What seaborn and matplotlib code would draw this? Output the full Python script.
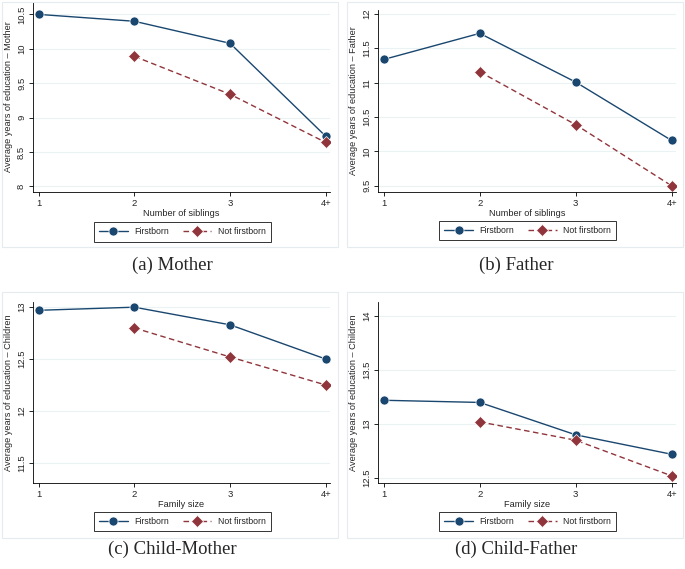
import pandas as pd
import matplotlib.pyplot as plt
import matplotlib.patches as mpatches
import seaborn as sns

# x categories
x_pos = [1, 2, 3, 4]
x_labels = ["1", "2", "3", "4+"]

# (a) Mother
mother_first = [10.50, 10.40, 10.08, 8.73]
mother_not = [9.89, 9.34, 8.64]
# (b) Father
father_first = [11.34, 11.72, 11.01, 10.16]
father_not = [11.16, 10.39, 9.50]
# (c) Child-Mother
cm_first = [12.97, 13.00, 12.83, 12.50]
cm_not = [12.80, 12.52, 12.25]
# (d) Child-Father
cf_first = [13.22, 13.20, 12.90, 12.72]
cf_not = [13.02, 12.85, 12.52]

navy = "#1a476f"
maroon = "#90353b"

sns.set_theme(style="white")
plt.rcParams['font.family'] = ['Liberation Sans', 'DejaVu Sans']

fig = plt.figure(figsize=(6.85, 5.69), dpi=100)
W, H = 685, 569


def make_df(first, notf):
    rows = [(x, v, "Firstborn") for x, v in zip(x_pos, first)]
    rows += [(x, v, "Not firstborn") for x, v in zip(x_pos[1:], notf)]
    return pd.DataFrame(rows, columns=["x", "y", "group"])


panels = [
    # values, box px (left, top, right, bottom), ylim, yticks, ylabel, xlabel, caption, caption pos, frame
    (mother_first, mother_not, (33, 2, 330, 192), (7.92, 10.68), [8, 8.5, 9, 9.5, 10, 10.5],
     ["8", "8.5", "9", "9.5", "10", "10.5"], "Average years of education \u2013 Mother",
     "Number of siblings", "(a) Mother", (172, 265), (2, 2, 338, 247)),
    (father_first, father_not, (378, 10, 676, 192), (9.41, 12.06), [9.5, 10, 10.5, 11, 11.5, 12],
     ["9.5", "10", "10.5", "11", "11.5", "12"], "Average years of education \u2013 Father",
     "Number of siblings", "(b) Father", (516, 265), (347, 2, 683, 247)),
    (cm_first, cm_not, (33, 302, 330, 483), (11.305, 13.05), [11.5, 12, 12.5, 13],
     ["11.5", "12", "12.5", "13"], "Average years of education \u2013 Children",
     "Family size", "(c) Child-Mother", (172, 549), (2, 292, 338, 538)),
    (cf_first, cf_not, (378, 302, 676, 483), (12.454, 14.13), [12.5, 13, 13.5, 14],
     ["12.5", "13", "13.5", "14"], "Average years of education \u2013 Children",
     "Family size", "(d) Child-Father", (516, 549), (347, 292, 683, 538)),
]

for first, notf, box, ylim, yticks, ytl, ylabel, xlabel, caption, cpos, frame in panels:
    # light frame around each graph
    fl, ft, fr, fb = frame
    fig.patches.append(mpatches.Rectangle((fl / W, 1 - fb / H), (fr - fl) / W, (fb - ft) / H,
                                          transform=fig.transFigure, fill=False,
                                          edgecolor="#e4ecef", linewidth=0.8))
    l, t, r, b = box
    ax = fig.add_axes([l / W, 1 - b / H, (r - l) / W, (b - t) / H])
    df = make_df(first, notf)
    sns.lineplot(data=df, x="x", y="y", hue="group", style="group", ax=ax,
                 palette={"Firstborn": navy, "Not firstborn": maroon},
                 markers={"Firstborn": "o", "Not firstborn": "D"},
                 dashes={"Firstborn": "", "Not firstborn": (4, 2.5)},
                 markersize=6.5, linewidth=1.0, markeredgewidth=0.5)
    ax.set_xlim(0.94, 4.045)
    ax.set_ylim(*ylim)
    ax.set_xticks(x_pos)
    ax.set_xticklabels(x_labels, fontsize=6.8)
    ax.set_yticks(yticks)
    ax.set_yticklabels(ytl, fontsize=6.8, rotation=90, va="center")
    ax.tick_params(axis="both", which="both", length=3, width=0.6, color="black",
                   direction="out", pad=2, left=True, bottom=True)
    for side in ["top", "right"]:
        ax.spines[side].set_visible(False)
    for side in ["left", "bottom"]:
        ax.spines[side].set_color("black")
        ax.spines[side].set_linewidth(0.6)
    for yt in yticks:
        ax.axhline(yt, color="#eaf2f3", linewidth=0.8, zorder=0)
    ax.set_xlabel(xlabel, fontsize=6.6, labelpad=1)
    ax.set_ylabel(ylabel, fontsize=6.6, labelpad=3)
    sns.move_legend(ax, "upper center", bbox_to_anchor=(0.502, -0.135), ncol=2,
                    title=None, frameon=True, fontsize=6.3, handlelength=3.3,
                    columnspacing=1.6, borderpad=0.6, handletextpad=0.7)
    leg = ax.get_legend()
    leg.get_frame().set_edgecolor("black")
    leg.get_frame().set_linewidth(0.7)
    leg.get_frame().set_boxstyle("square", pad=0)
    fig.text(cpos[0] / W, 1 - cpos[1] / H, caption, ha="center", va="center",
             fontsize=13.5, family=["Liberation Serif", "DejaVu Serif"])

fig.savefig("out.png", dpi=100)
